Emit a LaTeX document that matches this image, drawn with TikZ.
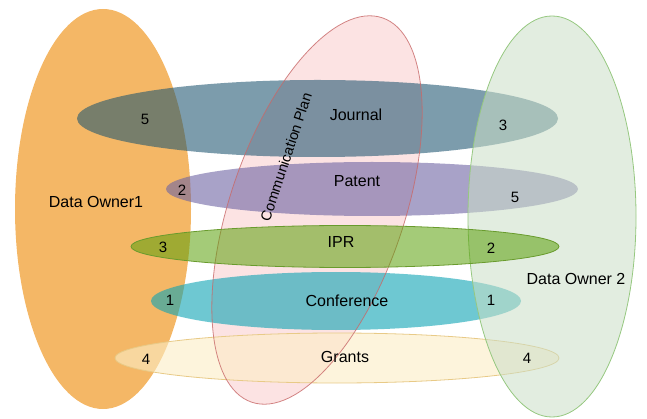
\documentclass[tikz,border=0pt]{standalone}
\usepackage{fontspec}
\setmainfont{Liberation Sans}
\usetikzlibrary{shapes.geometric}
\definecolor{orangefill}{RGB}{244,183,102}
\definecolor{pinkfill}{RGB}{252,227,227}
\definecolor{pinkline}{RGB}{200,105,105}
\definecolor{greenfill}{RGB}{202,222,199}
\definecolor{greenline}{RGB}{150,200,128}
\definecolor{journalfill}{RGB}{30,85,112}
\definecolor{patentfill}{RGB}{110,100,163}
\definecolor{iprfill}{RGB}{90,160,10}
\definecolor{iprline}{RGB}{105,155,45}
\definecolor{conffill}{RGB}{13,163,180}
\definecolor{grantfill}{RGB}{252,237,197}
\definecolor{grantline}{RGB}{232,202,135}
\tikzset{
  blob/.style={ellipse, inner sep=0pt, outer sep=0pt},
  band/.style={blob, fill opacity=0.6},
  lbl/.style={font=\fontsize{16}{18}\selectfont, inner sep=0pt},
  num/.style={font=\fontsize{15}{17}\selectfont, inner sep=0pt},
}
\begin{document}
\begin{tikzpicture}[x=1pt,y=-1pt]
\useasboundingbox (0,0) rectangle (647,419);
% big sets
\node[blob, fill=orangefill, minimum width=176pt, minimum height=400pt] (owner1) at (103,209) {};
\node[blob, fill=pinkfill, minimum width=174pt, minimum height=406pt, rotate=-18.8] (plan) at (317,210) {};
% bands
\node[band, fill=journalfill, fill opacity=0.58, minimum width=481pt, minimum height=77pt] (journal) at (317.5,118.5) {};
\node[band, fill=patentfill, minimum width=412pt, minimum height=54pt] (patent) at (372,189) {};
\node[band, fill=conffill, minimum width=370pt, minimum height=58pt] (conf) at (336,301) {};
\node[band, fill=grantfill, draw=grantline, line width=0.8pt, minimum width=444pt, minimum height=50pt] (grants) at (337,358) {};
% outline of communication plan over the bands
\node[blob, draw=pinkline, draw opacity=0.8, line width=0.8pt, minimum width=174pt, minimum height=406pt, rotate=-18.8] (planline) at (317,210) {};
% data owner 2
\node[blob, fill=greenfill, fill opacity=0.55, draw=greenline, line width=0.8pt, minimum width=168pt, minimum height=401pt] (owner2) at (552,216.5) {};
% IPR on top
\node[blob, fill=iprfill, fill opacity=0.55, draw=iprline, line width=0.8pt, minimum width=428pt, minimum height=42pt] (ipr) at (345,246.5) {};
% labels
\node[lbl] (t1) at (96,202) {Data Owner1};
\node[lbl] (t2) at (576,279) {Data Owner 2};
\node[font=\fontsize{14.5}{17}\selectfont, inner sep=0pt, rotate=71.5] (t3) at (286,157) {Communication Plan};
\node[lbl] (tj) at (356,115) {Journal};
\node[lbl] (tp) at (357,181) {Patent};
\node[lbl] (ti) at (341,242) {IPR};
\node[lbl] (tc) at (347,301) {Conference};
\node[lbl] (tg) at (345,357) {Grants};
\node[num] (j1) at (145,119) {5};
\node[num] (j2) at (503,125) {3};
\node[num] (p1) at (182,190) {2};
\node[num] (p2) at (515,197) {5};
\node[num] (i1) at (163,247) {3};
\node[num] (i2) at (491,248) {2};
\node[num] (c1) at (170,300) {1};
\node[num] (c2) at (491,300) {1};
\node[num] (g1) at (146,359) {4};
\node[num] (g2) at (527,358) {4};
\end{tikzpicture}
\end{document}
